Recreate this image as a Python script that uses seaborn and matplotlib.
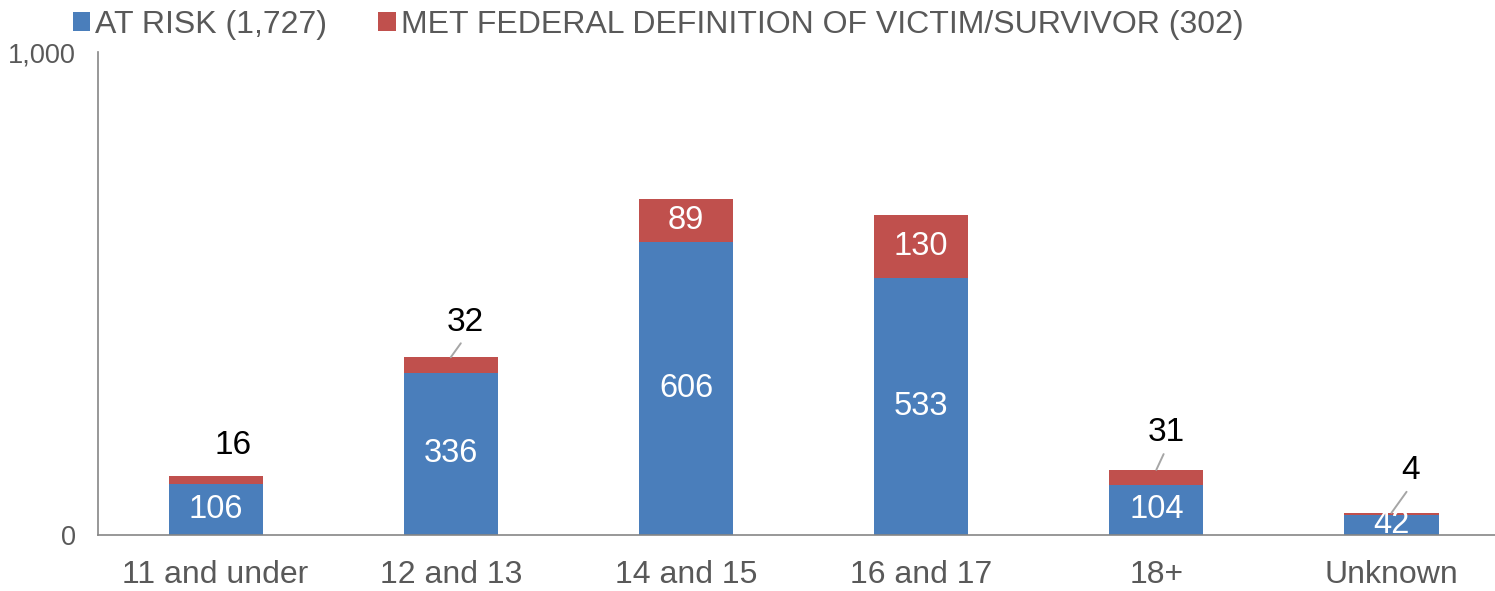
import matplotlib
matplotlib.use("Agg")
import matplotlib.pyplot as plt
import seaborn as sns
import pandas as pd
from matplotlib.patches import Patch

categories = ["11 and under", "12 and 13", "14 and 15", "16 and 17", "18+", "Unknown"]
at_risk = [106, 336, 606, 533, 104, 42]
met_federal = [16, 32, 89, 130, 31, 4]
legend_labels = ["AT RISK (1,727)", "MET FEDERAL DEFINITION OF VICTIM/SURVIVOR (302)"]

BLUE = "#4A7EBB"
RED = "#C0504D"
GRAY = "#595959"

sns.set_theme(style="white")
plt.rcParams["font.family"] = ["Liberation Sans", "DejaVu Sans"]

df = pd.DataFrame({"cat": categories, "risk": at_risk, "met": met_federal})
df["total"] = df["risk"] + df["met"]

fig = plt.figure(figsize=(14.95, 5.91), dpi=100)
ax = fig.add_axes([98 / 1495, 1 - 535 / 591, 1 - 98 / 1495, (535 - 52) / 591])

sns.barplot(data=df, x="cat", y="total", color=RED, saturation=1, width=0.4, ax=ax, linewidth=0)
sns.barplot(data=df, x="cat", y="risk", color=BLUE, saturation=1, width=0.4, ax=ax, linewidth=0)

ax.set_ylim(0, 1000)
ax.set_xlim(-0.5, 5.44)
ax.set_yticks([0, 1000])
ax.set_yticklabels(["0", "1,000"], fontsize=19.5, color=GRAY)
ax.tick_params(axis="y", length=0, pad=16)
ax.tick_params(axis="x", length=0, pad=18, labelsize=23, labelcolor=GRAY)
ax.set_xlabel("")
ax.set_ylabel("")
for s in ["top", "right"]:
    ax.spines[s].set_visible(False)
for s in ["left", "bottom"]:
    ax.spines[s].set_color("#868686")
    ax.spines[s].set_linewidth(1.2)

# inside labels for at-risk
for i, v in enumerate(at_risk):
    ax.text(i, v / 2, f"{v}", ha="center", va="center", color="white", fontsize=23.5)

# met labels: inside for large, outside with leader for small
offsets = {0: (17, 31, False), 1: (14, 35, True), 4: (10, 37, True), 5: (19, 42, True)}
for i, (r, m) in enumerate(zip(at_risk, met_federal)):
    if i in offsets:
        dx, dy, leader = offsets[i]
        ap = (dict(arrowstyle="-", color="#A6A6A6", lw=1.4, shrinkA=2, shrinkB=0, relpos=(0.5, 0))
              if leader else None)
        ax.annotate(f"{m}", xy=(i, r + m), xytext=(dx, dy), textcoords="offset pixels",
                    ha="center", va="center", fontsize=24, color="black", arrowprops=ap)
    else:
        ax.text(i, r + m / 2, f"{m}", ha="center", va="center", color="white", fontsize=23.5)

handles = [Patch(facecolor=BLUE, edgecolor="none"), Patch(facecolor=RED, edgecolor="none")]
fig.legend(handles, legend_labels, loc="upper left", bbox_to_anchor=(60 / 1495, 1.005), ncol=2,
           frameon=False, fontsize=23, handlelength=0.55, handleheight=0.55, handletextpad=0.15,
           columnspacing=1.6, labelcolor=GRAY, borderaxespad=0.0)

fig.savefig("out.png", dpi=100)
